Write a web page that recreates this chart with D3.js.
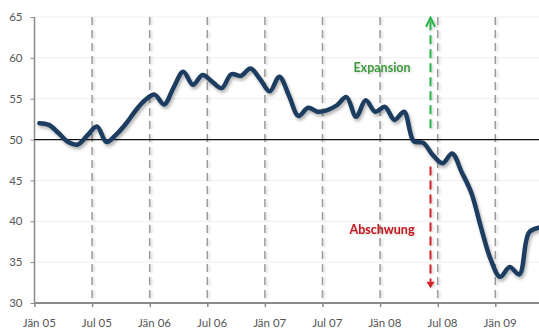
<!DOCTYPE html>
<html>
<head>
<meta charset="utf-8">
<script src="https://cdn.jsdelivr.net/npm/d3@7/dist/d3.min.js"></script>
<style>
  html, body { margin: 0; padding: 0; background: #fff; }
  svg { display: block; }
</style>
</head>
<body>
<script>
// Monthly index values, Jän 05 .. Mai 09
const values = [
  52.0, 51.8, 50.8, 49.7, 49.4, 50.5, 51.6, 49.7, 50.6, 51.9, 53.5, 54.8,
  55.5, 54.3, 56.4, 58.3, 56.7, 57.9, 57.1, 56.3, 58.0, 57.8, 58.7, 57.4,
  55.9, 57.7, 55.4, 52.9, 53.9, 53.4, 53.6, 54.2, 55.2, 52.8, 54.8, 53.4,
  54.0, 52.4, 53.4, 49.8, 49.6, 48.1, 47.1, 48.3, 46.0, 43.5, 39.3, 35.4,
  33.2, 34.4, 33.5, 38.6, 39.2
];
const tickMonths = [0, 6, 12, 18, 24, 30, 36, 42, 48];
const tickLabels = ["Jän 05", "Jul 05", "Jän 06", "Jul 06", "Jän 07", "Jul 07", "Jän 08", "Jul 08", "Jän 09"];
const yTicks = [30, 35, 40, 45, 50, 55, 60, 65];
const threshold = 50;
const annotations = [
  { text: "Expansion", value: 58.3, color: "#3e9a3e" },
  { text: "Abschwung", value: 38.4, color: "#c4161c" }
];

const W = 539, H = 328;
const plotLeft = 34.5, plotTop = 17, plotBottom = 303;
const monthWidth = 9.6;

const svg = d3.select("body").append("svg").attr("width", W).attr("height", H);
const defs = svg.append("defs");

const shadow = defs.append("filter").attr("id", "shadow")
  .attr("x", "-10%").attr("y", "-10%").attr("width", "130%").attr("height", "130%");
shadow.append("feDropShadow").attr("dx", 1.5).attr("dy", 2.5)
  .attr("stdDeviation", 1.6).attr("flood-color", "#000").attr("flood-opacity", 0.3);

const softShadow = defs.append("filter").attr("id", "softShadow")
  .attr("filterUnits", "userSpaceOnUse")
  .attr("x", 0).attr("y", 0).attr("width", W).attr("height", H);
softShadow.append("feDropShadow").attr("dx", 1.5).attr("dy", 1)
  .attr("stdDeviation", 1.2).attr("flood-color", "#000").attr("flood-opacity", 0.18);

// x measured in months from the start of Jän 05; points sit mid-month
const x = d3.scaleLinear().domain([0, 53]).range([plotLeft, plotLeft + 53 * monthWidth]);
const y = d3.scaleLinear().domain([30, 65]).range([plotBottom, plotTop]);
const xp = i => x(i + 0.5);

const font = "Lato, 'Liberation Sans', sans-serif";

// faint horizontal gridlines
svg.append("g").selectAll("line").data(yTicks.filter(v => v > 30 && v !== threshold))
  .join("line")
  .attr("x1", plotLeft).attr("x2", W)
  .attr("y1", d => y(d)).attr("y2", d => y(d))
  .attr("stroke", "#efefef").attr("stroke-width", 1);

// dashed vertical gridlines at half-year boundaries
svg.append("g").attr("filter", "url(#softShadow)")
  .selectAll("line").data(tickMonths.filter(m => m > 0))
  .join("line")
  .attr("x1", d => x(d)).attr("x2", d => x(d))
  .attr("y1", plotTop).attr("y2", plotBottom)
  .attr("stroke", "#9c9c9c").attr("stroke-width", 1.5)
  .attr("stroke-dasharray", "8,5");

// y axis
const yAxis = svg.append("g").attr("transform", `translate(${plotLeft},0)`)
  .call(d3.axisLeft(y).tickValues(yTicks).tickSize(4).tickPadding(8));
yAxis.select(".domain").attr("stroke", "#8a8a8a").attr("stroke-width", 1.5)
  .attr("d", `M0,${plotTop}V${plotBottom}`);
yAxis.selectAll(".tick line").attr("stroke", "#8a8a8a");
yAxis.selectAll(".tick text").attr("fill", "#555").attr("font-size", 11.5)
  .attr("font-family", font);

// x axis
const xAxis = svg.append("g").attr("transform", `translate(0,${plotBottom})`)
  .call(d3.axisBottom(x).tickValues(tickMonths).tickSize(4).tickFormat(() => ""));
xAxis.select(".domain").attr("stroke", "#8a8a8a").attr("stroke-width", 2)
  .attr("d", `M${plotLeft},0H${W}`);
xAxis.selectAll(".tick line").attr("stroke", "#8a8a8a").attr("stroke-width", 1.5);
svg.append("g").selectAll("text").data(tickMonths)
  .join("text")
  .attr("x", d => xp(d)).attr("y", plotBottom + 23.5)
  .attr("text-anchor", "middle")
  .attr("fill", "#555").attr("font-size", 11.5).attr("font-family", font)
  .text((d, i) => tickLabels[i]);

// threshold line at 50
svg.append("line")
  .attr("x1", plotLeft).attr("x2", W)
  .attr("y1", y(threshold)).attr("y2", y(threshold))
  .attr("stroke", "#111").attr("stroke-width", 1.3);

// index line
const line = d3.line().x((d, i) => xp(i)).y(d => y(d)).curve(d3.curveCatmullRom.alpha(0.5));
svg.append("path").datum(values)
  .attr("d", line)
  .attr("fill", "none")
  .attr("stroke", "#1f3d5f")
  .attr("stroke-width", 4.5)
  .attr("stroke-linejoin", "round")
  .attr("stroke-linecap", "round")
  .attr("filter", "url(#shadow)");

// arrows: expansion upward, downturn downward
const arrowX = 430.5;
const up = svg.append("g").attr("filter", "url(#softShadow)");
up.append("line")
  .attr("x1", arrowX).attr("x2", arrowX)
  .attr("y1", y(51.4)).attr("y2", y(64.8))
  .attr("stroke", "#2bb24c").attr("stroke-width", 2).attr("stroke-dasharray", "9,5");
up.append("path")
  .attr("d", `M${arrowX - 4.5},${y(63.8)}L${arrowX},${y(64.9)}L${arrowX + 4.5},${y(63.8)}`)
  .attr("fill", "none").attr("stroke", "#2bb24c").attr("stroke-width", 2);

const down = svg.append("g").attr("filter", "url(#softShadow)");
down.append("line")
  .attr("x1", arrowX).attr("x2", arrowX)
  .attr("y1", y(46.7)).attr("y2", y(32.6))
  .attr("stroke", "#d0202a").attr("stroke-width", 2).attr("stroke-dasharray", "9,5");
down.append("path")
  .attr("d", `M${arrowX - 4},${y(32.6)}L${arrowX + 4},${y(32.6)}L${arrowX},${y(31.8)}Z`)
  .attr("fill", "#d0202a");

// annotation labels
svg.append("g").attr("filter", "url(#softShadow)")
  .selectAll("text").data(annotations)
  .join("text")
  .attr("x", 382).attr("y", d => y(d.value))
  .attr("text-anchor", "middle")
  .attr("font-family", font).attr("font-weight", "bold").attr("font-size", 12.5)
  .attr("fill", d => d.color)
  .text(d => d.text);
</script>
</body>
</html>
